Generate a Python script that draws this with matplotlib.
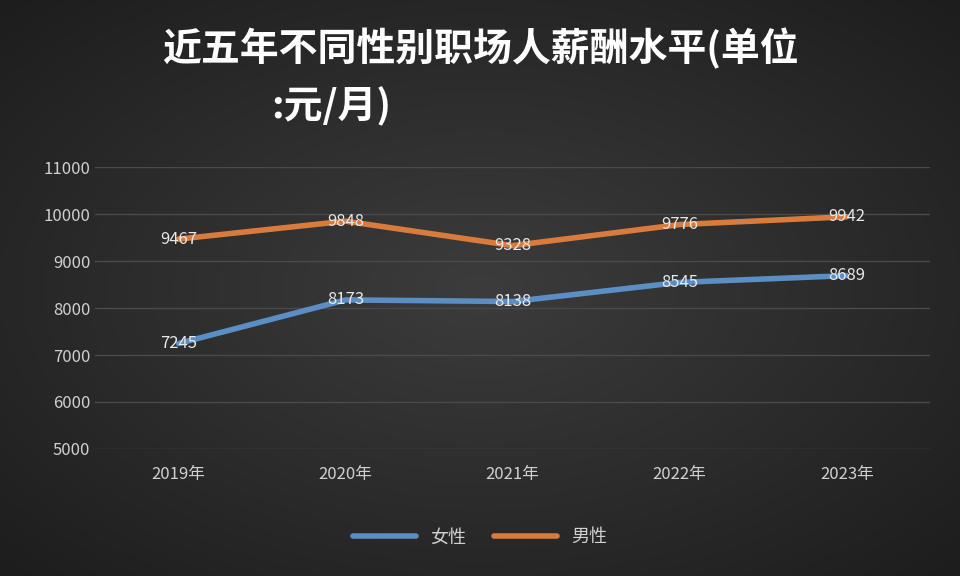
import numpy as np
import matplotlib.pyplot as plt
from matplotlib.colors import LinearSegmentedColormap

plt.rcParams['font.family'] = ['Noto Sans CJK SC', 'DejaVu Sans']

years = ["2019年", "2020年", "2021年", "2022年", "2023年"]
female = [7245, 8173, 8138, 8545, 8689]
male = [9467, 9848, 9328, 9776, 9942]
yticks = [5000, 6000, 7000, 8000, 9000, 10000, 11000]

fig = plt.figure(figsize=(9.6, 5.76), dpi=100)

# radial dark background
bg = fig.add_axes([0, 0, 1, 1], zorder=-10)
yy, xx = np.mgrid[-1:1:300j, -1:1:500j]
r = np.clip(np.sqrt(xx ** 2 + yy ** 2) / 1.414, 0, 1)
cmap = LinearSegmentedColormap.from_list("bg", ["#3c3c3c", "#1d1d1d"])
bg.imshow(r, cmap=cmap, vmin=0, vmax=1, aspect="auto", extent=[0, 1, 0, 1])
bg.axis("off")

ax = fig.add_axes([0.099, 0.2205, 0.87, 0.4895])
ax.set_facecolor("none")
x = np.arange(len(years))
ax.plot(x, female, color="#5b8ec4", lw=4, solid_capstyle="round", label="女性")
ax.plot(x, male, color="#d97b3c", lw=4, solid_capstyle="round", label="男性")
for xi, v in zip(x, female):
    ax.text(xi, v, str(v), ha="center", va="center", color="#e8e8e8", fontsize=12)
for xi, v in zip(x, male):
    ax.text(xi, v, str(v), ha="center", va="center", color="#e8e8e8", fontsize=12)

ax.set_xlim(-0.5, len(years) - 0.5)
ax.set_ylim(5000, 11000)
ax.set_yticks(yticks)
ax.set_xticks(x, years)
ax.grid(axis="y", color="#4a4a4a", lw=1)
ax.tick_params(colors="#d0d0d0", labelsize=12, length=0)
ax.tick_params(axis="x", pad=12)
for s in ax.spines.values():
    s.set_visible(False)

fig.text(0.5, 0.915, "近五年不同性别职场人薪酬水平(单位", ha="center", va="center",
         color="white", fontsize=28, fontweight="bold")
fig.text(0.345, 0.815, ":元/月)", ha="center", va="center",
         color="white", fontsize=28, fontweight="bold")

fig.legend(loc="center", bbox_to_anchor=(0.5, 0.067), ncol=2, frameon=False,
           labelcolor="#d0d0d0", fontsize=13, handlelength=3.5, columnspacing=1.5)

fig.savefig("out.png", dpi=100)
